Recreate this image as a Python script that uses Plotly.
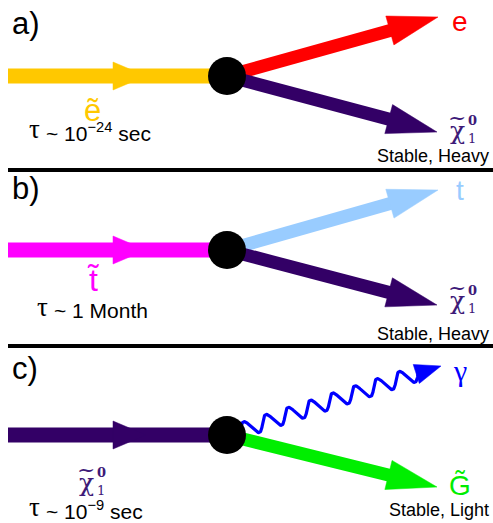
import numpy as np
import plotly.graph_objects as go

W, H = 493, 523
SANS = "Liberation Sans, Arial, sans-serif"
SERIF = "Liberation Serif, Times New Roman, serif"
CHIF = "DejaVu Serif, serif"

# ---- diagram data (pixel-space positions of the decay diagrams) ----
panel_labels = ["a)", "b)", "c)"]
panel_label_y = [23, 188, 368]
vertex_x = 227
vertex_y = [76, 250, 435]
in_start_x = 8
in_colors = ["#FFC800", "#FF00FF", "#330066"]
up_tip_x = [438, 438, 441]
up_tip_y = [17, 190, 366]
lo_tip_x = [437, 437, 437]
lo_tip_y = [132, 305, 487]
up_colors = ["#FF0000", "#99CCFF", "#0000FF"]
lo_colors = ["#330066", "#330066", "#00EE00"]
up_styles = ["solid", "solid", "wavy"]
up_labels = ["e", "t", "γ"]
up_label_fonts = [SANS, SANS, SERIF]
up_label_y = [21, 190, 370]
lo_label_y = [130, 300, 485]
stable_notes = ["Stable, Heavy", "Stable, Heavy", "Stable, Light"]
stable_y = [156, 334, 510]
parent_colors = ["#FFC800", "#FF00FF", "#3D1A78"]
parent_label_y = [110, 280, 482]
lifetime_symbol = "τ"
lifetimes = ["~ 10<sup>−24</sup> sec", "~ 1 Month", "~ 10<sup>−9</sup> sec"]
lifetime_x = [28, 36, 28]
lifetime_y = [132, 310, 510]
separator_y = [170, 346]
CHI_COLOR = "#3D1A78"

fig = go.Figure()


def poly(xs, ys, color):
    fig.add_trace(go.Scatter(x=list(xs) + [xs[0]], y=list(ys) + [ys[0]], mode="lines",
                             fill="toself", fillcolor=color, line=dict(color=color, width=0.5),
                             hoverinfo="skip", showlegend=False))


def arrow_head(tx, ty, dx, dy, length, half, color):
    n = np.hypot(dx, dy)
    ux, uy = dx / n, dy / n
    px, py = -uy, ux
    bx, by = tx - ux * length, ty - uy * length
    poly([tx, bx + px * half, bx - px * half], [ty, by + py * half, by - py * half], color)


def seg(x0, y0, x1, y1, color, width):
    fig.add_trace(go.Scatter(x=[x0, x1], y=[y0, y1], mode="lines",
                             line=dict(color=color, width=width),
                             hoverinfo="skip", showlegend=False))


for i in range(3):
    vy = vertex_y[i]
    # incoming particle line with mid arrow
    seg(in_start_x, vy, vertex_x, vy, in_colors[i], 15)
    arrow_head(146, vy, 1, 0, 33, 14, in_colors[i])

    # upper outgoing
    dx, dy = up_tip_x[i] - vertex_x, up_tip_y[i] - vy
    L = np.hypot(dx, dy)
    ux, uy = dx / L, dy / L
    if up_styles[i] == "solid":
        bx, by = up_tip_x[i] - ux * 48, up_tip_y[i] - uy * 48
        seg(vertex_x, vy, bx + ux * 2, by + uy * 2, up_colors[i], 13)
        arrow_head(up_tip_x[i], up_tip_y[i], dx, dy, 50, 15, up_colors[i])
    else:
        s0, s1 = 14, L - 24
        t = np.linspace(0, 1, 400)
        s = s0 + (s1 - s0) * t
        off = -7.5 * np.sin(2 * np.pi * 8 * t)
        px, py = -uy, ux
        wx = vertex_x + ux * s + px * off
        wy = vy + uy * s + py * off
        fig.add_trace(go.Scatter(x=wx, y=wy, mode="lines", line=dict(color=up_colors[i], width=3.2),
                                 hoverinfo="skip", showlegend=False))
        arrow_head(up_tip_x[i], up_tip_y[i], dx, dy, 26, 10, up_colors[i])

    # lower outgoing
    dx, dy = lo_tip_x[i] - vertex_x, lo_tip_y[i] - vy
    L = np.hypot(dx, dy)
    ux, uy = dx / L, dy / L
    bx, by = lo_tip_x[i] - ux * 48, lo_tip_y[i] - uy * 48
    seg(vertex_x, vy, bx + ux * 2, by + uy * 2, lo_colors[i], 13)
    arrow_head(lo_tip_x[i], lo_tip_y[i], dx, dy, 50, 15, lo_colors[i])

# vertices
fig.add_trace(go.Scatter(x=[vertex_x] * 3, y=vertex_y, mode="markers",
                         marker=dict(color="black", size=38, line=dict(width=0)),
                         hoverinfo="skip", showlegend=False))

# separators
for sy in separator_y:
    seg(8, sy, W, sy, "black", 4)


def txt(x, y, s, size, color="black", font=SANS, xa="center", ya="middle"):
    fig.add_annotation(x=x, y=y, text=s, showarrow=False, xanchor=xa, yanchor=ya,
                       font=dict(family=font, size=size, color=color))


def chi(x, y, color):
    txt(x, y, "χ", 25, color, CHIF)
    txt(x, y - 13, "~", 22, color, CHIF)
    txt(x + 15, y - 10, "<b>0</b>", 13, color, CHIF)
    txt(x + 15, y + 8, "1", 13, color, CHIF)


TILDE = "\u0303"
for i in range(3):
    txt(10, panel_label_y[i], panel_labels[i], 31, xa="left")
    txt(460, up_label_y[i], up_labels[i], 28 if i < 2 else 30, up_colors[i], up_label_fonts[i])
    txt(491, stable_y[i], stable_notes[i], 18, xa="right")
    txt(lifetime_x[i] - 1, lifetime_y[i] - 3, lifetime_symbol, 27, font=SERIF, xa="left")
    txt(lifetime_x[i] + 16, lifetime_y[i], lifetimes[i], 21, xa="left")

# right-side lower labels
for i in range(2):
    chi(457, lo_label_y[i], CHI_COLOR)
txt(460, lo_label_y[2], "G" + TILDE, 28, lo_colors[2], SANS)

# parent labels
txt(92, parent_label_y[0], "e" + TILDE, 31, parent_colors[0], SANS)
txt(93, parent_label_y[1], "t" + TILDE, 32, parent_colors[1], SANS)
chi(86, parent_label_y[2], parent_colors[2])

fig.update_layout(width=W, height=H, margin=dict(l=0, r=0, t=0, b=0),
                  paper_bgcolor="white", plot_bgcolor="white",
                  xaxis=dict(range=[0, W], visible=False, fixedrange=True),
                  yaxis=dict(range=[H, 0], visible=False, fixedrange=True))
fig.write_html("out.html", config={"displayModeBar": False},
               post_script="document.body.style.margin='0';"
               "document.body.style.overflow='hidden';")
